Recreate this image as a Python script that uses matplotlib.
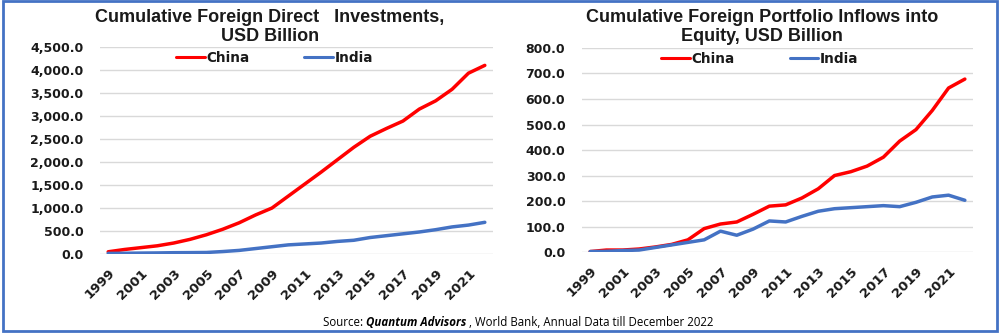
import matplotlib.pyplot as plt
from matplotlib.patches import Rectangle

# Years 1999-2022, every second one labelled
years = list(range(1999, 2023))

# Cumulative FDI, USD bn
fdi_china = [50, 100, 140, 180, 240, 320, 420, 540, 680, 850, 1000, 1260,
             1520, 1780, 2050, 2320, 2560, 2730, 2890, 3150, 3330, 3580, 3930, 4100]
fdi_india = [15, 18, 22, 25, 30, 32, 35, 55, 80, 120, 160, 200,
             220, 240, 275, 300, 360, 400, 440, 480, 530, 590, 630, 690]

# Cumulative portfolio inflows into equity, USD bn
fpi_china = [2, 8, 8, 12, 20, 30, 48, 92, 110, 118, 148, 180,
             185, 212, 248, 300, 315, 337, 372, 435, 480, 555, 643, 678]
fpi_india = [2, 3, 6, 8, 18, 28, 38, 48, 82, 66, 90, 122,
             118, 140, 160, 170, 174, 178, 182, 178, 195, 216, 223, 203]

RED = '#ff0000'
BLUE = '#4472c4'
TXT = '#1a1a1a'

fig = plt.figure(figsize=(10, 3.33), dpi=100)

# blue frame round the whole figure
fig.patches.append(Rectangle((0.003, 0.006), 0.994, 0.99, transform=fig.transFigure,
                             fill=False, edgecolor=BLUE, linewidth=2))


def draw(ax, china, india, ymax, step, leg_x):
    x = range(len(years))
    ax.plot(x, china, color=RED, lw=2.5, label='China', solid_capstyle='round')
    ax.plot(x, india, color=BLUE, lw=2.5, label='India', solid_capstyle='round')
    ax.set_xlim(-0.5, len(years) - 0.5)
    ax.set_ylim(0, ymax)
    ax.set_yticks(range(0, ymax + 1, step))
    ax.set_yticklabels([f'{v:,.1f}' for v in range(0, ymax + 1, step)],
                       fontsize=9, fontweight='bold', color=TXT)
    ax.set_xticks(list(x)[::2])
    ax.set_xticklabels([str(y) for y in years[::2]], rotation=45, ha='right',
                       rotation_mode='anchor', fontsize=9.5, fontweight='bold', color=TXT)
    ax.grid(axis='y', color='#d9d9d9', lw=1)
    ax.set_axisbelow(True)
    for s in ax.spines.values():
        s.set_visible(False)
    ax.tick_params(length=0)
    ax.tick_params(axis='x', pad=9)
    ax.tick_params(axis='y', pad=12)
    ax.legend(loc='center', bbox_to_anchor=(leg_x, 0.947), ncol=2, frameon=False,
              prop={'family': 'DejaVu Sans', 'weight': 'bold', 'size': 9.8},
              labelcolor=TXT, handlelength=2.1, handletextpad=0.15, columnspacing=4.0)
    for line in ax.get_legend().get_lines():
        line.set_linewidth(2.2)


ax1 = fig.add_axes([0.100, 0.237, 0.393, 0.622])
draw(ax1, fdi_china, fdi_india, 4500, 500, 0.445)
ax2 = fig.add_axes([0.582, 0.243, 0.391, 0.613])
draw(ax2, fpi_china, fpi_india, 800, 100, 0.455)

title_font = dict(family='Liberation Sans', weight='bold', size=13, color=TXT,
                  ha='center', va='center')
fig.text(0.270, 0.948, 'Cumulative Foreign Direct   Investments,', **title_font)
fig.text(0.270, 0.891, 'USD Billion', **title_font)
fig.text(0.762, 0.948, 'Cumulative Foreign Portfolio Inflows into', **title_font)
fig.text(0.762, 0.891, 'Equity, USD Billion', **title_font)

# source line with the firm name in bold italic
src_y = 0.033
t1 = fig.text(0.323, src_y, 'Source: ', fontsize=8.3, family='Open Sans', va='center')
fig.canvas.draw()
r = fig.canvas.get_renderer()
bb = t1.get_window_extent(r)
t2 = fig.text(bb.x1 / fig.bbox.width, src_y, 'Quantum Advisors', fontsize=8.3,
              family='Open Sans', weight='bold', style='italic', va='center')
bb = t2.get_window_extent(r)
fig.text(bb.x1 / fig.bbox.width, src_y, ' , World Bank, Annual Data till December 2022',
         fontsize=8.3, family='Open Sans', va='center')

fig.savefig('out.png', dpi=100)
